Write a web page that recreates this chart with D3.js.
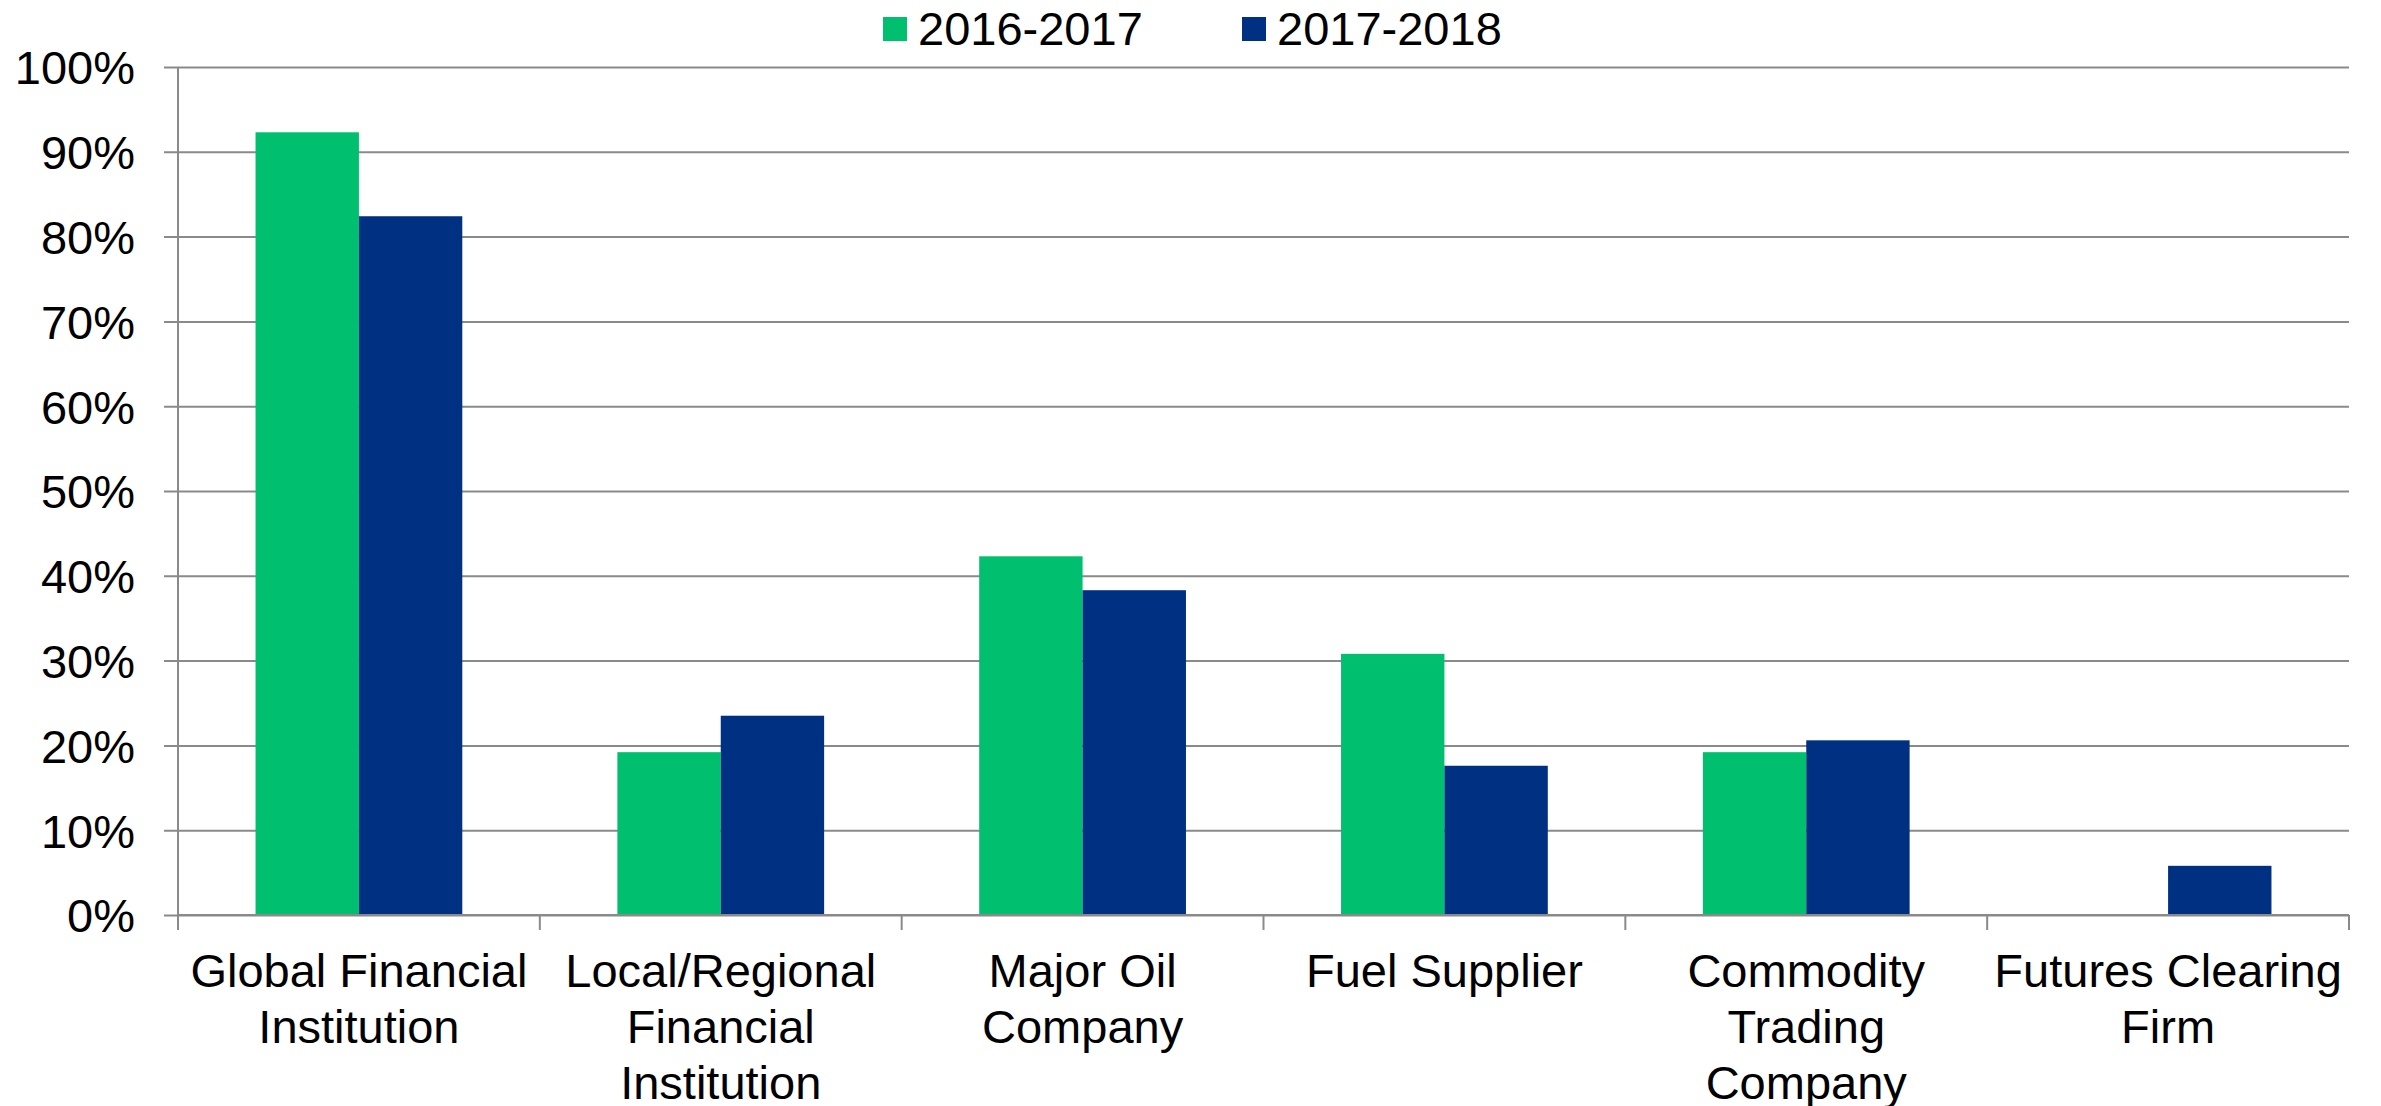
<!DOCTYPE html>
<html>
<head>
    <meta charset="utf-8">
    <title>Counterparty types</title>
    <script src="https://d3js.org/d3.v7.min.js"></script>
    <style>
        body { margin: 0; background: #fff; }
        text { font-family: "Liberation Sans", Arial, sans-serif; fill: #000; }
    </style>
</head>
<body>
<div id="chart"></div>
<script type="text/javascript">

    // data
    let categories = [
        "Global Financial\nInstitution",
        "Local/Regional\nFinancial\nInstitution",
        "Major Oil\nCompany",
        "Fuel Supplier",
        "Commodity\nTrading\nCompany",
        "Futures Clearing\nFirm"
    ];
    let seriesNames = ["2016-2017", "2017-2018"];
    let values2016 = [0.923, 0.192, 0.423, 0.308, 0.192, 0];
    let values2017 = [0.824, 0.235, 0.383, 0.176, 0.206, 0.058];
    let yTicks = [0, 0.1, 0.2, 0.3, 0.4, 0.5, 0.6, 0.7, 0.8, 0.9, 1.0];
    let colors = ["#00bf6f", "#003082"];

    let W = 2381, H = 1106;
    let margin = {top: 67, right: 32, bottom: 191, left: 178};
    let w = W - margin.left - margin.right;
    let h = H - margin.top - margin.bottom;
    let gridColor = "#8a8a8a";

    let svg = d3.select("#chart")
        .append("svg")
        .attr("width", W)
        .attr("height", H);

    let g = svg.append("g")
        .attr("transform", "translate(" + margin.left + "," + margin.top + ")");

    let x0 = d3.scaleBand()
        .domain(categories)
        .range([0, w])
        .paddingInner(0.4286)
        .paddingOuter(0.2143);

    let x1 = d3.scaleBand()
        .domain(seriesNames)
        .range([0, x0.bandwidth()]);

    let y = d3.scaleLinear()
        .domain([0, 1])
        .range([h, 0]);

    // gridlines + y axis
    let yAxis = d3.axisLeft(y)
        .tickValues(yTicks)
        .tickFormat(d3.format(".0%"))
        .tickSize(-w)
        .tickPadding(0);

    let yg = g.append("g").call(yAxis);
    yg.select(".domain").remove();
    yg.selectAll(".tick line")
        .attr("x1", -14)
        .attr("stroke", gridColor)
        .attr("stroke-width", 2);
    yg.selectAll(".tick text")
        .attr("x", -43)
        .attr("dy", "0.36em")
        .attr("font-size", "47px")
        .style("font-family", "'Liberation Sans', Arial, sans-serif")
        .attr("fill", "#000");

    // vertical axis line
    g.append("line")
        .attr("x1", 0).attr("x2", 0)
        .attr("y1", 0).attr("y2", h + 15)
        .attr("stroke", gridColor)
        .attr("stroke-width", 2);

    // bars
    let rows = categories.map(function(c, i) {
        return {cat: c, vals: [values2016[i], values2017[i]]};
    });

    let groups = g.selectAll(".cat")
        .data(rows)
        .enter()
        .append("g")
        .attr("transform", function(d) { return "translate(" + x0(d.cat) + ",0)"; });

    groups.selectAll("rect")
        .data(function(d) {
            return d.vals.map(function(v, j) { return {s: seriesNames[j], v: v, j: j}; });
        })
        .enter()
        .append("rect")
        .filter(function(d) { return d.v > 0; })
        .attr("x", function(d) { return x1(d.s); })
        .attr("y", function(d) { return y(d.v); })
        .attr("width", x1.bandwidth())
        .attr("height", function(d) { return h - y(d.v); })
        .attr("fill", function(d) { return colors[d.j]; });

    // x axis: line, boundary ticks, labels
    g.append("line")
        .attr("x1", 0).attr("x2", w)
        .attr("y1", h).attr("y2", h)
        .attr("stroke", gridColor)
        .attr("stroke-width", 2);

    let step = x0.step();
    g.selectAll(".xtick")
        .data(d3.range(categories.length + 1))
        .enter()
        .append("line")
        .attr("x1", function(d) { return d * step; })
        .attr("x2", function(d) { return d * step; })
        .attr("y1", h)
        .attr("y2", h + 15)
        .attr("stroke", gridColor)
        .attr("stroke-width", 2);

    let labels = g.selectAll(".xlabel")
        .data(categories)
        .enter()
        .append("text")
        .attr("text-anchor", "middle")
        .attr("font-size", "47px")
        .attr("transform", function(d) {
            return "translate(" + (x0(d) + x0.bandwidth() / 2) + "," + (h + 72) + ")";
        });

    labels.selectAll("tspan")
        .data(function(d) { return d.split("\n"); })
        .enter()
        .append("tspan")
        .attr("x", 0)
        .attr("y", function(d, i) { return i * 56; })
        .text(function(d) { return d; });

    // legend
    let legend = svg.append("g")
        .attr("transform", "translate(883,17)");

    let items = legend.selectAll(".item")
        .data(seriesNames)
        .enter()
        .append("g")
        .attr("transform", function(d, i) { return "translate(" + (i * 359) + ",0)"; });

    items.append("rect")
        .attr("width", 24)
        .attr("height", 24)
        .attr("fill", function(d, i) { return colors[i]; });

    items.append("text")
        .attr("x", 35)
        .attr("y", 28)
        .attr("font-size", "47px")
        .text(function(d) { return d; });

</script>
</body>
</html>
